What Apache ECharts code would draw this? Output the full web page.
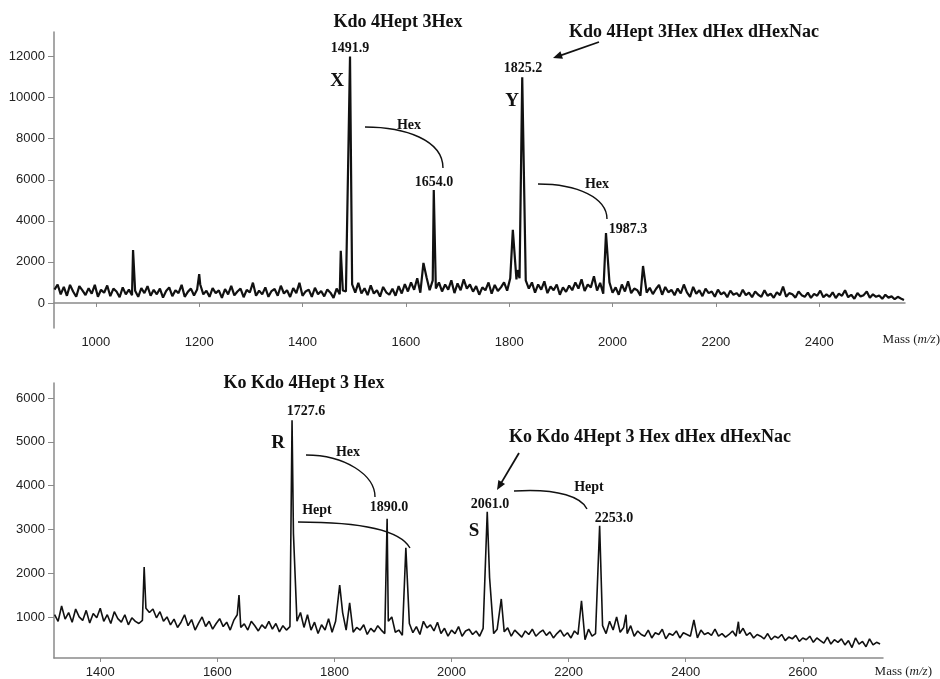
<!DOCTYPE html>
<html>
<head>
    <meta charset="utf-8">
    <title></title>
    <script type="text/javascript" src="https://cdn.jsdelivr.net/npm/echarts@6/dist/echarts.min.js"></script>
</head>
<body style="margin:0;background:#fff;">

<div id="main" style="width: 940px;height:679px;"></div>
<script type="text/javascript">
    // 上图：背景噪声，质量从 920 开始每 6 取一点
    var topStart = 920, topStep = 6;
    var topNoise = [
        650, 900, 420, 780, 350, 880, 560, 300, 820, 610, 380, 720, 450, 880, 300, 640, 500, 850, 330, 700, 560, 280, 760, 420, 650,
        380, 600, 300, 720, 480, 820, 350, 640, 420, 700, 260, 580, 760, 330, 620, 480, 880, 300, 540, 700, 360, 650, 900, 420, 600,
        300, 720, 480, 610, 250, 680, 420, 830, 370, 560, 700, 280, 640, 510, 990, 350, 600, 420, 760, 300, 580, 680, 350, 840, 460,
        620, 290, 720, 480, 980, 350, 560, 650, 300, 740, 420, 580, 320, 660, 500, 250, 700, 420, 610, 560, 330, 900, 500, 980, 460,
        720, 380, 860, 460, 620, 310, 780, 520, 400, 690, 350, 820, 460, 920, 560, 1000, 640, 1200, 500, 1050, 1250, 620, 1100, 700, 1000,
        560, 900, 650, 1100, 480, 950, 620, 1150, 700, 900, 550, 820, 400, 760, 620, 1000, 450, 880, 580, 760, 1000, 600, 1200, 800, 1150,
        1200, 900, 1100, 700, 1000, 500, 900, 650, 1050, 480, 800, 620, 900, 400, 760, 540, 850, 620, 1000, 700, 1150, 580, 900, 760, 1300,
        600, 980, 450, 820, 1000, 500, 760, 400, 900, 560, 1050, 480, 700, 620, 350, 860, 500, 740, 430, 680, 880, 400, 780, 520, 640,
        380, 700, 460, 900, 520, 300, 780, 450, 620, 330, 700, 480, 560, 300, 650, 420, 520, 280, 600, 400, 480, 320, 640, 380, 500,
        280, 560, 400, 300, 620, 350, 450, 250, 520, 380, 800, 300, 480, 420, 260, 560, 380, 300, 500, 250, 440, 350, 600, 280, 420,
        300, 520, 240, 460, 350, 620, 280, 400, 200, 480, 320, 380, 560, 250, 420, 300, 360, 200, 400, 260, 320, 180, 300, 220, 150
    ];
    // 上图峰 [m/z, 强度]
    var topPeaks = [
        [1072, 2580], [1200, 1400], [1474, 2540], [1491.9, 12000], [1634, 1950], [1654.0, 5500],
        [1807, 3560], [1816, 1600], [1825.2, 11000], [1987.3, 3400], [2059, 1800]
    ];

    // 下图：背景噪声，质量从 1322 开始每 6 取一点
    var botStart = 1322, botStep = 6;
    var botNoise = [
        1050, 900, 1250, 950, 1100, 880, 1180, 1000, 920, 1150, 860, 1080, 980, 1200, 900, 1050, 850, 1120, 960, 880, 1050, 820, 980, 900,
        850, 920, 1200, 1100, 1180, 980, 1120, 900, 1000, 820, 950, 760, 880, 1050, 800, 940, 700, 860, 1000, 780, 900, 720, 850, 960,
        780, 880, 700, 920, 1050, 760, 840, 700, 900, 800, 680, 820, 740, 900, 720, 850, 660, 800, 700, 780, 2900, 900, 1100, 760,
        1050, 700, 880, 620, 820, 700, 960, 650, 900, 780, 1100, 700, 820, 650, 760, 700, 820, 600, 740, 660, 800, 700, 620, 900,
        1000, 650, 700, 580, 720, 850, 640, 780, 600, 900, 750, 820, 680, 880, 620, 740, 560, 700, 620, 780, 560, 680, 720, 600,
        680, 560, 740, 600, 1000, 620, 720, 580, 660, 750, 560, 700, 620, 540, 680, 600, 720, 560, 640, 700, 580, 660, 520, 620,
        700, 560, 640, 520, 680, 600, 900, 480, 720, 560, 620, 560, 800, 620, 900, 700, 1000, 650, 760, 620, 800, 560, 680, 600,
        560, 700, 520, 640, 600, 720, 500, 620, 580, 680, 520, 640, 600, 560, 680, 520, 700, 600, 640, 580, 720, 560, 620, 540,
        600, 680, 560, 620, 740, 580, 640, 520, 600, 560, 500, 620, 480, 560, 520, 600, 460, 540, 500, 580, 440, 520, 480, 560,
        420, 520, 460, 400, 540, 380, 480, 420, 500, 360, 460, 300, 520, 380, 440, 320, 500, 360, 420, 380
    ];
    var botPeaks = [
        [1475, 2140], [1637, 1500], [1727.6, 5490], [1809, 1730], [1826, 1320], [1890.0, 3240], [1922, 2580],
        [2061.0, 3400], [2065, 1900], [2085, 1410], [2222, 1370], [2253.0, 3080], [2298, 1050], [2414, 930], [2490, 890]
    ];

    // 坐标刻度
    var topXTicks = [1000, 1200, 1400, 1600, 1800, 2000, 2200, 2400];
    var topYTicks = [0, 2000, 4000, 6000, 8000, 10000, 12000];
    var botXTicks = [1400, 1600, 1800, 2000, 2200, 2400, 2600];
    var botYTicks = [1000, 2000, 3000, 4000, 5000, 6000];

    // 噪声 + 峰 合并成一条谱线
    function buildSpectrum(start, step, noise, peaks) {
        var pts = [];
        noise.forEach(function (v, i) {
            var m = start + i * step;
            var near = peaks.some(function (p) { return Math.abs(p[0] - m) < 2; });
            if (!near) pts.push([m, v]);
        });
        peaks.forEach(function (p) { pts.push([p[0], p[1]]); });
        pts.sort(function (a, b) { return a[0] - b[0]; });
        return pts;
    }

    var serif = '"Liberation Serif", "DejaVu Serif", serif';
    var axisGray = '#8a8a8a';
    var plain = function (v) { return String(v); };

    function xAxisOpt(idx, min, max, ticks) {
        return {
            type: 'value', gridIndex: idx, min: min, max: max,
            axisLine: {lineStyle: {color: axisGray, width: 1.5}},
            axisTick: {length: 4, lineStyle: {color: axisGray}, customValues: ticks},
            axisLabel: {customValues: ticks, formatter: plain, color: '#222', fontSize: 13, margin: 8,
                fontFamily: '"Liberation Sans", Arial, sans-serif'},
            splitLine: {show: false}
        };
    }
    function yAxisOpt(idx, min, max, ticks) {
        return {
            type: 'value', gridIndex: idx, min: min, max: max,
            axisLine: {show: true, lineStyle: {color: axisGray, width: 1.5}},
            axisTick: {show: true, length: 6, lineStyle: {color: axisGray}, customValues: ticks},
            axisLabel: {customValues: ticks, formatter: plain, color: '#222', fontSize: 13, margin: 9,
                fontFamily: '"Liberation Sans", Arial, sans-serif'},
            splitLine: {show: false}
        };
    }

    function txt(x, y, s, size, weight, align) {
        return {
            type: 'text', x: x, y: y, silent: true,
            style: {text: s, fill: '#111', font: (weight || 'bold') + ' ' + size + 'px ' + serif,
                textAlign: align || 'center', textVerticalAlign: 'middle'}
        };
    }
    function massLabel(x, y) {
        return {
            type: 'text', x: x, y: y, silent: true,
            style: {
                text: '{a|Mass (}{b|m/z}{a|)}',
                textAlign: 'right', textVerticalAlign: 'middle',
                rich: {
                    a: {fontFamily: serif, fontSize: 13, fill: '#222'},
                    b: {fontFamily: serif, fontSize: 13, fontStyle: 'italic', fill: '#222'}
                }
            }
        };
    }
    function arc(x1, y1, c1x, c1y, c2x, c2y, x2, y2) {
        return {
            type: 'bezierCurve', silent: true,
            shape: {x1: x1, y1: y1, cpx1: c1x, cpy1: c1y, cpx2: c2x, cpy2: c2y, x2: x2, y2: y2},
            style: {stroke: '#111', lineWidth: 1.4, fill: null}
        };
    }
    function arrow(x1, y1, x2, y2) {
        var a = Math.atan2(y2 - y1, x2 - x1), L = 10, w = 0.4;
        return [
            {type: 'line', silent: true, shape: {x1: x1, y1: y1, x2: x2 - 6 * Math.cos(a), y2: y2 - 6 * Math.sin(a)},
                style: {stroke: '#111', lineWidth: 1.8}},
            {type: 'polygon', silent: true, shape: {points: [
                [x2, y2],
                [x2 - L * Math.cos(a - w), y2 - L * Math.sin(a - w)],
                [x2 - L * Math.cos(a + w), y2 - L * Math.sin(a + w)]
            ]}, style: {fill: '#111'}}
        ];
    }

    var graphics = [
        // 上图标注
        txt(398, 22, 'Kdo 4Hept 3Hex', 18),
        txt(350, 48, '1491.9', 14),
        txt(337, 81, 'X', 19),
        arc(365, 127, 405, 127, 443, 140, 443, 168),
        txt(409, 125, 'Hex', 14),
        txt(434, 182, '1654.0', 14),
        txt(694, 32, 'Kdo 4Hept 3Hex dHex dHexNac', 18),
        txt(523, 68, '1825.2', 14),
        txt(512, 101, 'Y', 19),
        arc(538, 184, 578, 184, 607, 198, 607, 219),
        txt(597, 184, 'Hex', 14),
        txt(628, 229, '1987.3', 14),
        massLabel(940, 340),
        // 下图标注
        txt(304, 383, 'Ko Kdo 4Hept 3 Hex', 18),
        txt(306, 411, '1727.6', 14),
        txt(278, 443, 'R', 19),
        arc(306, 455, 345, 455, 375, 475, 375, 497),
        txt(348, 452, 'Hex', 14),
        txt(389, 507, '1890.0', 14),
        txt(317, 510, 'Hept', 14),
        arc(298, 522, 360, 522, 400, 530, 410, 548),
        txt(650, 437, 'Ko Kdo 4Hept 3 Hex dHex dHexNac', 18),
        txt(490, 504, '2061.0', 14),
        txt(474, 531, 'S', 19),
        arc(514, 491, 560, 488, 582, 498, 587, 509),
        txt(589, 487, 'Hept', 14),
        txt(614, 518, '2253.0', 14),
        massLabel(932, 672)
    ].concat(arrow(599, 42, 553, 58)).concat(arrow(519, 453, 497, 490));

    var myChart = echarts.init(document.getElementById('main'));

    var option = {
        animation: false,
        backgroundColor: '#fff',
        grid: [
            {left: 54, top: 32, width: 851, height: 296},
            {left: 54, top: 383, width: 829, height: 275}
        ],
        xAxis: [
            xAxisOpt(0, 919, 2566, topXTicks),
            xAxisOpt(1, 1321, 2737, botXTicks)
        ],
        yAxis: [
            yAxisOpt(0, -1220, 13200, topYTicks),
            yAxisOpt(1, 62, 6343, botYTicks)
        ],
        series: [{
            type: 'line', xAxisIndex: 0, yAxisIndex: 0, showSymbol: false,
            lineStyle: {color: '#111', width: 2.2},
            data: buildSpectrum(topStart, topStep, topNoise, topPeaks)
        }, {
            type: 'line', xAxisIndex: 1, yAxisIndex: 1, showSymbol: false,
            lineStyle: {color: '#111', width: 1.6},
            data: buildSpectrum(botStart, botStep, botNoise, botPeaks)
        }],
        graphic: graphics
    };

    myChart.setOption(option);
</script>

</body>
</html>
